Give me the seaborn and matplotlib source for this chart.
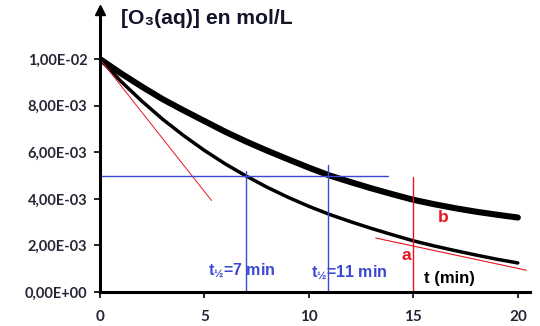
import numpy as np
import pandas as pd
import matplotlib
matplotlib.use("Agg")
import matplotlib.pyplot as plt
import seaborn as sns

# Time axis (min) and ozone concentrations (mol/L) for the two experiments
t_min = [0, 1, 2, 3, 4, 5, 6, 7, 8, 9, 10, 11, 12, 13, 14, 15, 16, 17, 18, 19, 20]
conc_a = [10.0, 9.05, 8.2, 7.42, 6.72, 6.08, 5.5, 4.98, 4.5, 4.07, 3.68, 3.33,
          3.02, 2.73, 2.46, 2.2, 1.98, 1.78, 1.59, 1.41, 1.25]
conc_b = [10.0, 9.39, 8.82, 8.28, 7.8, 7.34, 6.88, 6.46, 6.07, 5.7, 5.34, 5.0,
          4.72, 4.45, 4.2, 3.96, 3.77, 3.6, 3.45, 3.32, 3.2]
conc_a = [v * 1e-3 for v in conc_a]
conc_b = [v * 1e-3 for v in conc_b]

# Half-lives and construction lines
half_life_a = 7
half_life_b = 10.9
half_conc = 4.97e-3
tangent0_t = [0, 5.34]
tangent0_c = [1.0e-2, 3.93e-3]
tangent15_t = [13.2, 20.4]
tangent15_c = [2.32e-3, 0.94e-3]
t_mark = 15
t_mark_top = 4.94e-3

x_ticks = [0, 5, 10, 15, 20]
y_ticks = [0, 2e-3, 4e-3, 6e-3, 8e-3, 1e-2]

sns.set_theme(style="white")
plt.rcParams["font.family"] = ["Liberation Sans", "DejaVu Sans"]
plt.rcParams["mathtext.fontset"] = "custom"
plt.rcParams["mathtext.rm"] = "Liberation Sans:bold"
plt.rcParams["mathtext.it"] = "Liberation Sans:bold"
plt.rcParams["mathtext.bf"] = "Liberation Sans:bold"

df = pd.DataFrame({"t": t_min * 2,
                   "c": conc_a + conc_b,
                   "exp": ["a"] * len(t_min) + ["b"] * len(t_min)})

fig = plt.figure(figsize=(5.4, 3.26), dpi=100)
ax = fig.add_axes([0.185, 0.104, 0.796, 0.865])

sns.lineplot(data=df[df.exp == "a"], x="t", y="c", color="black", lw=2.5, ax=ax)
sns.lineplot(data=df[df.exp == "b"], x="t", y="c", color="black", lw=4.4, ax=ax)

red = "#e8141e"
blue = "#3b48d0"
ax.plot(tangent0_t, tangent0_c, color=red, lw=0.7)
ax.plot(tangent15_t, tangent15_c, color=red, lw=0.8)
ax.plot([t_mark, t_mark], [0, t_mark_top], color=red, lw=1.0)
ax.plot([0, 13.8], [half_conc, half_conc], color=blue, lw=1.0)
ax.plot([half_life_a, half_life_a], [0, 5.2e-3], color=blue, lw=1.0)
ax.plot([half_life_b, half_life_b], [0, 5.45e-3], color=blue, lw=1.0)

ax.set_xlim(0, 20.57)
ax.set_ylim(0, 12.1e-3)
ax.set_xticks(x_ticks)
ax.set_yticks(y_ticks)
ax.set_xticklabels([str(v) for v in x_ticks])
ax.set_yticklabels(["{:.2E}".format(v).replace(".", ",") for v in y_ticks])
ax.set_xlabel("")
ax.set_ylabel("")

for side in ("top", "right"):
    ax.spines[side].set_visible(False)
for side in ("left", "bottom"):
    ax.spines[side].set_color("black")
    ax.spines[side].set_linewidth(2.2)

ax.tick_params(axis="both", direction="out", length=4, width=1.2,
               color="black", labelcolor="#262636", left=True, bottom=True)
ax.tick_params(axis="y", pad=5)
ax.tick_params(axis="x", pad=9)
ytick_font = matplotlib.font_manager.FontProperties(
    family=["Lato", "DejaVu Sans"], weight="bold", size=10.5)
xtick_font = matplotlib.font_manager.FontProperties(
    family=["Lato", "DejaVu Sans"], weight="bold", size=11)
for lab in ax.get_yticklabels():
    lab.set_fontproperties(ytick_font)
for lab in ax.get_xticklabels():
    lab.set_fontproperties(xtick_font)

# arrow head on the concentration axis
ax.plot(0, 1.0, marker="^", color="black", markersize=7,
        transform=ax.transAxes, clip_on=False)

fig.text(121 / 540, 1 - 19 / 326, "[O₃(aq)] en mol/L", ha="left", va="center",
         fontsize=15.2, fontweight="bold", color="#14142a")

ax.text(5.15, 0.94e-3, r"t$_{½}$=7 min", color=blue, fontsize=11.5,
        fontweight="bold", ha="left", va="center")
ax.text(10.1, 0.86e-3, r"t$_{½}$=11 min", color=blue, fontsize=11.5,
        fontweight="bold", ha="left", va="center")
ax.text(14.65, 1.59e-3, "a", color=red, fontsize=12.5, fontweight="bold",
        ha="center", va="center")
ax.text(16.45, 3.18e-3, "b", color=red, fontsize=12.5, fontweight="bold",
        ha="center", va="center")
ax.text(15.5, 0.6e-3, "t (min)", color="black", fontsize=12,
        fontweight="bold", ha="left", va="center")

fig.savefig("out.png", dpi=100)
